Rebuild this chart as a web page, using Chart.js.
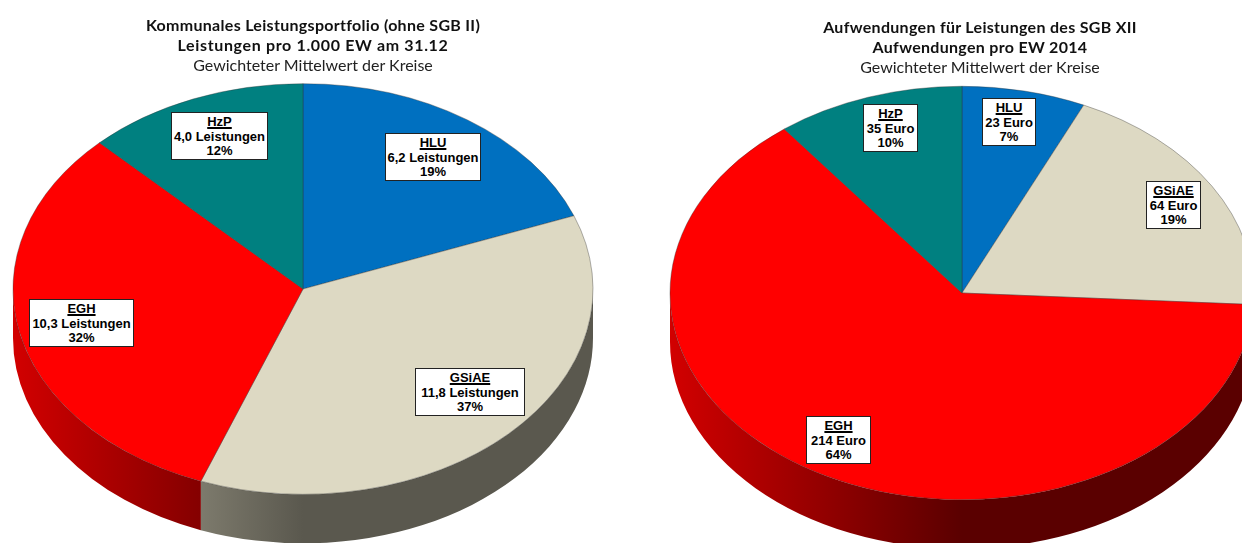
<!DOCTYPE html>
<html lang="de">
<head>
<meta charset="utf-8">
<title>Leistungsportfolio und Aufwendungen</title>
<script src="https://cdn.jsdelivr.net/npm/chart.js@4/dist/chart.umd.min.js"></script>
<style>
    html, body { margin: 0; padding: 0; background: #fff; }
    #page { position: relative; width: 1242px; height: 543px; overflow: hidden; }
    canvas { position: absolute; }
    .title {
        position: absolute; width: 560px; text-align: center; color: #222;
        font: 16px/20px Lato, sans-serif;
    }
    .title b { font-weight: 700; color: #111; letter-spacing: 0.3px; }
    .title b span { letter-spacing: 0.65px; }
    .box {
        position: absolute; box-sizing: border-box; background: #fff;
        border: 1px solid #222; color: #000; text-align: center; white-space: nowrap;
        font: bold 13px/14.7px "Liberation Sans", Arial, sans-serif; padding-top: 2px;
    }
    .box u { display: block; text-decoration-thickness: 1.5px; }
</style>
</head>
<body>
<div id="page">
    <canvas id="pie-left" width="620" height="620" style="left:-7px;top:-21px"></canvas>
    <canvas id="pie-right" width="620" height="620" style="left:652px;top:-17px"></canvas>

    <div class="title" style="left:33px;top:15px">
        <b>Kommunales Leistungsportfolio (ohne SGB II)<br><span>Leistungen pro 1.000 EW am 31.12</span></b><br>Gewichteter Mittelwert der Kreise
    </div>
    <div class="title" style="left:700px;top:17px">
        <b>Aufwendungen für Leistungen des SGB XII<br>Aufwendungen pro EW 2014</b><br>Gewichteter Mittelwert der Kreise
    </div>
</div>

<script>
// ------------------------------
// DATA
// ------------------------------
const categories = ["HLU", "GSiAE", "EGH", "HzP"];
const leistungen = [6.2, 11.8, 10.3, 4.0];
const euro       = [23, 64, 214, 35];

// Face and rim colours per category
const faceColors = ["#0070C0", "#DDD9C3", "#FF0000", "#008080"];
const rimLight   = ["#005a9a", "#bdb9a4", "#d20000", "#006666"];
const rimDark    = ["#00284a", "#5a584e", "#5a0000", "#003030"];

// Label boxes: [left, top, width] per category
const BOX_HEIGHT = 48;
const leftBoxes  = [[385, 133, 96], [415, 368, 110], [29, 299, 105], [171, 112, 97]];
const rightBoxes = [[982, 98, 54], [1146, 181, 55], [806, 416, 65], [863, 104, 55]];

// Tilt of the pie and height of its rim
const TILT = 0.708;
const RIM  = 49;

// ------------------------------
// 3D LOOK: RIM + SQUASHED FACE
// ------------------------------
const tiltPlugin = {
    id: "tilt",
    beforeDatasetsDraw(chart) {
        const ctx = chart.ctx;
        const arcs = chart.getDatasetMeta(0).data;

        arcs.forEach((arc, i) => {
            // only the front half of the pie shows a rim
            const a = Math.max(arc.startAngle, 0);
            const b = Math.min(arc.endAngle, Math.PI);
            if (b <= a) return;

            const { x, y, outerRadius: r } = arc;
            const grad = ctx.createLinearGradient(x - r, 0, x, 0);
            grad.addColorStop(0, rimLight[i]);
            grad.addColorStop(1, rimDark[i]);

            ctx.beginPath();
            ctx.ellipse(x, y, r, r * TILT, 0, a, b);
            ctx.ellipse(x, y + RIM, r, r * TILT, 0, b, a, true);
            ctx.closePath();
            ctx.fillStyle = grad;
            ctx.fill();
        });

        const { x, y } = arcs[0];
        ctx.save();
        ctx.translate(x, y);
        ctx.scale(1, TILT);
        ctx.translate(-x, -y);
    },
    afterDatasetsDraw(chart) {
        chart.ctx.restore();
    }
};

// ------------------------------
// PIE
// ------------------------------
function makePie(id, values, radius) {
    return new Chart(document.getElementById(id), {
        type: "pie",
        data: {
            labels: categories,
            datasets: [{
                data: values,
                backgroundColor: faceColors,
                borderColor: "rgba(50,50,50,0.55)",
                borderWidth: 0.8
            }]
        },
        options: {
            responsive: false,
            animation: false,
            radius: radius,
            plugins: { legend: { display: false }, tooltip: { enabled: false } }
        },
        plugins: [tiltPlugin]
    });
}

// ------------------------------
// LABEL BOXES
// ------------------------------
function addLabels(values, boxes, formatValue) {
    const page = document.getElementById("page");
    const total = values.reduce((sum, v) => sum + v, 0);

    values.forEach((v, i) => {
        const [left, top, width] = boxes[i];
        const box = document.createElement("div");
        box.className = "box";
        box.style.cssText = `left:${left}px;top:${top}px;width:${width}px;height:${BOX_HEIGHT}px`;
        box.innerHTML = `<u>${categories[i]}</u>${formatValue(v)}<br>${Math.round(v / total * 100)}%`;
        page.appendChild(box);
    });
}

makePie("pie-left", leistungen, 290);
makePie("pie-right", euro, 292);

addLabels(leistungen, leftBoxes, v => v.toFixed(1).replace(".", ",") + " Leistungen");
addLabels(euro, rightBoxes, v => v + " Euro");
</script>
</body>
</html>
